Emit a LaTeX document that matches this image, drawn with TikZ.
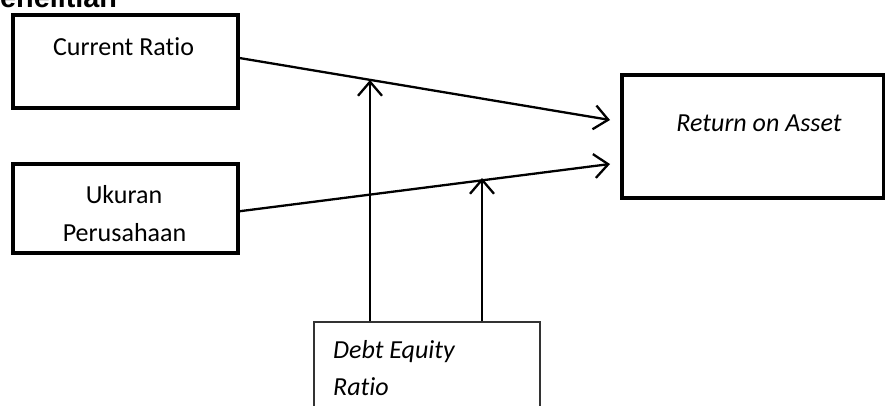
\documentclass[tikz,border=0pt]{standalone}
\usepackage{fontspec}
\setmainfont{Carlito}[Ligatures=NoCommon]
\newfontfamily\titlefont{Liberation Sans}
\usetikzlibrary{arrows.meta}

\begin{document}
\begin{tikzpicture}[
		x=1pt, y=-1pt,
		box/.style = {rectangle, draw, line width=4pt, inner sep=0pt},
		thin/.style = {rectangle, draw=black!80, line width=1.3pt, inner sep=0pt},
		txt/.style = {inner sep=0pt, anchor=base, font=\fontsize{26}{38}\selectfont},
		itxt/.style = {inner sep=0pt, anchor=base west, font=\fontsize{26}{38}\selectfont\itshape},
		r/.style = {-{Straight Barb[length=14pt, width=24pt]}, line width=2.3pt}
		]

		\clip (0,0) rectangle (885,405);

		\node[inner sep=0pt, anchor=base west, font=\titlefont\bfseries\fontsize{28.8}{34}\selectfont] (ttl) at (0,7.5) {enelitian};

		\node[box, minimum width=225pt, minimum height=93pt]	(cr)	at	(125, 61)		{};
		\node[txt]	(crt)	at	(123.5, 55)		{Current Ratio};

		\node[box, minimum width=225pt, minimum height=89.5pt]	(uk)	at	(125, 208.25)	{};
		\node[txt]	(ukt1)	at	(124, 203)		{Ukuran};
		\node[txt]	(ukt2)	at	(124.5, 241.7)	{Perusahaan};

		\node[box, minimum width=262pt, minimum height=123pt]	(roa)	at	(753, 136.5)	{};
		\node[txt, font=\fontsize{26}{38}\selectfont\itshape]	(roat)	at	(759, 131.7)	{Return on Asset};

		\node[thin, minimum width=226pt, minimum height=100pt]	(der)	at	(427, 372)		{};
		\node[itxt]	(dert1)	at	(333, 358)		{Debt Equity};
		\node[itxt]	(dert2)	at	(333, 395)		{Ratio};

		\coordinate	(m1)	at	(370, 80);
		\coordinate	(m2)	at	(482, 178);

		\draw[r]	([yshift=3pt]cr.east)	to	([xshift=-10pt, yshift=16.5pt]roa.west);
		\draw[r]	([yshift=-3pt]uk.east)	to	([xshift=-10pt, yshift=-27.5pt]roa.west);
		\draw[r]	([xshift=-57pt]der.north)	to	(m1);
		\draw[r]	([xshift=55pt]der.north)	to	(m2);
\end{tikzpicture}
\end{document}
